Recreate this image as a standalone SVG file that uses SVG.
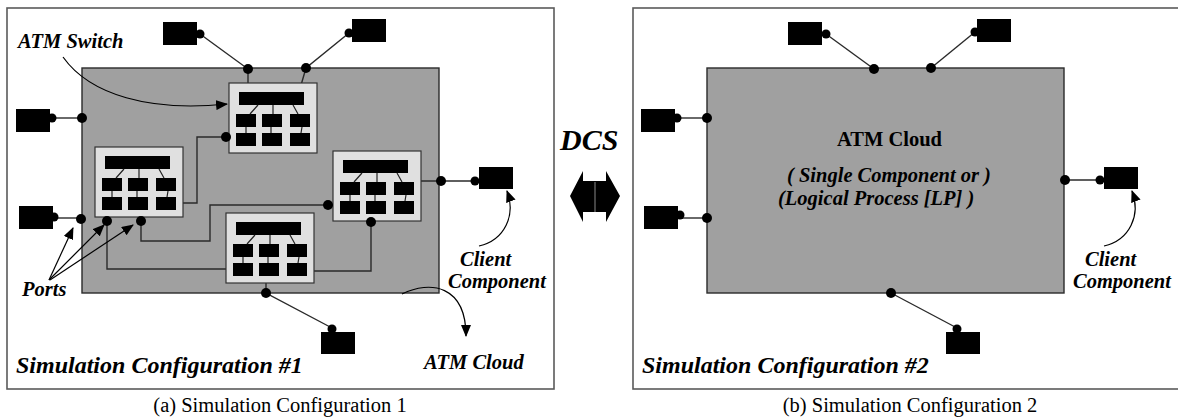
<svg xmlns="http://www.w3.org/2000/svg" xmlns:xlink="http://www.w3.org/1999/xlink" width="1178" height="419" viewBox="0 0 1178 419">
<style>
.frame{fill:#fff;stroke:#5a5a5a;stroke-width:1.6}
.cloud{fill:#a0a0a0;stroke:#2a2a2a;stroke-width:1.4}
.swbox{fill:#e0e0e0;stroke:#333;stroke-width:1.2}
.blk{fill:#000}
.ln{fill:none;stroke:#222;stroke-width:1.2}
.wire{fill:none;stroke:#2a2a2a;stroke-width:1.4}
.ann{fill:none;stroke:#000;stroke-width:1.2}
.lbl{font-family:"Liberation Serif",serif;font-weight:bold;font-style:italic;font-size:20.5px;fill:#000}
.title{font-family:"Liberation Serif",serif;font-weight:bold;font-style:italic;font-size:24px;fill:#000}
.cap{font-family:"Liberation Serif",serif;font-size:20.5px;fill:#000}
</style>
<defs>
<marker id="ah" viewBox="0 0 12 10" refX="11" refY="5" markerWidth="12" markerHeight="10" markerUnits="userSpaceOnUse" orient="auto">
<path d="M0,0 L12,5 L0,10 Z" fill="#000"/>
</marker>
<g id="sw">
<rect class="swbox" x="0" y="0" width="88" height="70"/>
<rect class="blk" x="10" y="9" width="65" height="13"/>
<rect class="blk" x="7" y="31" width="20" height="13"/>
<rect class="blk" x="33" y="31" width="20" height="13"/>
<rect class="blk" x="61" y="31" width="20" height="13"/>
<rect class="blk" x="7" y="50" width="20" height="13"/>
<rect class="blk" x="33" y="50" width="20" height="13"/>
<rect class="blk" x="61" y="50" width="20" height="13"/>
<path class="ln" d="M29,22 L21,31 M44,22 L44,31 M64,22 L69,31 M17,44 L17,50 M42,44 L42,50 M73,44 L72,50"/>
</g>
</defs>

<!-- Panel (a) -->
<g id="panel-a">
<rect class="frame" x="7" y="8" width="547" height="381"/>
</g>
<g id="atm-cloud-a">
<rect class="cloud" x="82" y="68" width="357" height="225"/>
</g>

<g id="connectors-a">
<path class="wire" d="M200,34 L248,69 L248,92"/>
<path class="wire" d="M349,33 L306,68 L299,92"/>
<path class="wire" d="M52,118 L82,118"/>
<path class="wire" d="M54,218 L81,218"/>
<path class="wire" d="M421,181 L475,181"/>
<path class="wire" d="M266,276 L266,293 L332,328"/>
<path class="wire" d="M176,203 L197,203 L197,137 L236,137"/>
<path class="wire" d="M107,210 L107,269 L233,269"/>
<path class="wire" d="M141,210 L141,241 L210,241 L210,205 L333,205"/>
<path class="wire" d="M306,271 L371,271 L371,214"/>
</g>

<g id="switch-a"><use xlink:href="#sw" href="#sw" x="229" y="83"/></g>
<g id="switch-b"><use xlink:href="#sw" href="#sw" x="95" y="147"/></g>
<g id="switch-c"><use xlink:href="#sw" href="#sw" x="333" y="151"/></g>
<g id="switch-d"><use xlink:href="#sw" href="#sw" x="226" y="213"/></g>

<g id="ports-a" class="blk">
<circle cx="248" cy="69" r="5"/>
<circle cx="306" cy="68" r="5"/>
<circle cx="82" cy="118" r="5"/>
<circle cx="81" cy="219" r="5"/>
<circle cx="441" cy="181" r="5"/>
<circle cx="266" cy="293" r="5"/>
<circle cx="226" cy="137" r="5"/>
<circle cx="107" cy="221" r="5"/>
<circle cx="141" cy="221" r="5"/>
<circle cx="328" cy="205" r="5"/>
<circle cx="371" cy="222" r="5"/>
</g>

<g id="client-a1" class="blk"><rect x="163" y="22" width="34" height="23"/><circle cx="200" cy="34" r="4.5"/></g>
<g id="client-a2" class="blk"><rect x="352" y="19" width="34" height="23"/><circle cx="349" cy="33" r="4.5"/></g>
<g id="client-a3" class="blk"><rect x="16" y="109" width="34" height="23"/><circle cx="52" cy="118" r="4.5"/></g>
<g id="client-a4" class="blk"><rect x="19" y="206" width="34" height="23"/><circle cx="54" cy="217" r="4.5"/></g>
<g id="client-a5" class="blk"><rect x="479" y="167" width="34" height="22"/><circle cx="475" cy="181" r="4.5"/></g>
<g id="client-a6" class="blk"><rect x="321" y="332" width="34" height="22"/><circle cx="332" cy="329" r="4.5"/></g>

<g id="annotations-a">
<text class="lbl" x="18" y="48">ATM Switch</text>
<path class="ann" d="M63,57 C90,95 150,112 227,104" marker-end="url(#ah)"/>
<text class="lbl" x="22" y="296">Ports</text>
<path class="ann" d="M49,280 L73,228" marker-end="url(#ah)"/>
<path class="ann" d="M49,280 L104,225" marker-end="url(#ah)"/>
<path class="ann" d="M50,280 L133,225" marker-end="url(#ah)"/>
<text class="lbl" x="460" y="266">Client</text>
<text class="lbl" x="448" y="288">Component</text>
<path class="ann" d="M479,246 C505,240 516,215 507,191" marker-end="url(#ah)"/>
<path class="ann" d="M402,294 C430,280 466,285 466,336" marker-end="url(#ah)"/>
<text class="lbl" x="424" y="369">ATM Cloud</text>
<text class="title" x="16" y="373">Simulation Configuration #1</text>
</g>

<!-- DCS -->
<g id="dcs">
<text class="lbl" x="560" y="150" style="font-size:30px">DCS</text>
<polygon class="blk" points="570,196 583,171 583,181 606,181 606,171 620,196 606,222 606,212 583,212 583,222"/>
<line x1="595" y1="182" x2="595" y2="212" stroke="#888" stroke-width="1"/>
</g>

<!-- Panel (b) -->
<g id="panel-b">
<rect class="frame" x="633" y="8" width="547" height="381"/>
</g>
<g id="atm-cloud-b">
<rect class="cloud" x="707" y="68" width="357" height="225"/>
<text class="lbl" x="837" y="146" style="font-style:normal">ATM Cloud</text>
<text class="lbl" x="787" y="182">( Single Component or )</text>
<text class="lbl" x="778" y="205">(Logical Process [LP] )</text>
</g>

<g id="connectors-b">
<path class="wire" d="M826,34 L874,69"/>
<path class="wire" d="M975,32 L931,68"/>
<path class="wire" d="M677,118 L707,118"/>
<path class="wire" d="M680,218 L707,218"/>
<path class="wire" d="M1065,180 L1100,180"/>
<path class="wire" d="M891,293 L957,328"/>
</g>

<g id="ports-b" class="blk">
<circle cx="874" cy="69" r="5"/>
<circle cx="931" cy="68" r="5"/>
<circle cx="707" cy="118" r="5"/>
<circle cx="707" cy="218" r="5"/>
<circle cx="1065" cy="180" r="5"/>
<circle cx="891" cy="293" r="5"/>
</g>

<g id="client-b1" class="blk"><rect x="788" y="22" width="34" height="23"/><circle cx="826" cy="34" r="4.5"/></g>
<g id="client-b2" class="blk"><rect x="977" y="19" width="34" height="23"/><circle cx="975" cy="32" r="4.5"/></g>
<g id="client-b3" class="blk"><rect x="641" y="109" width="34" height="23"/><circle cx="677" cy="118" r="4.5"/></g>
<g id="client-b4" class="blk"><rect x="644" y="206" width="34" height="23"/><circle cx="680" cy="215" r="4.5"/></g>
<g id="client-b5" class="blk"><rect x="1104" y="167" width="34" height="22"/><circle cx="1100" cy="180" r="4.5"/></g>
<g id="client-b6" class="blk"><rect x="946" y="332" width="34" height="22"/><circle cx="957" cy="329" r="4.5"/></g>

<g id="annotations-b">
<text class="lbl" x="1085" y="266">Client</text>
<text class="lbl" x="1073" y="288">Component</text>
<path class="ann" d="M1104,246 C1130,240 1141,215 1132,191" marker-end="url(#ah)"/>
<text class="title" x="642" y="373">Simulation Configuration #2</text>
</g>

<g id="captions">
<text class="cap" x="280" y="412" text-anchor="middle">(a) Simulation Configuration 1</text>
<text class="cap" x="910" y="412" text-anchor="middle">(b) Simulation Configuration 2</text>
</g>
</svg>
